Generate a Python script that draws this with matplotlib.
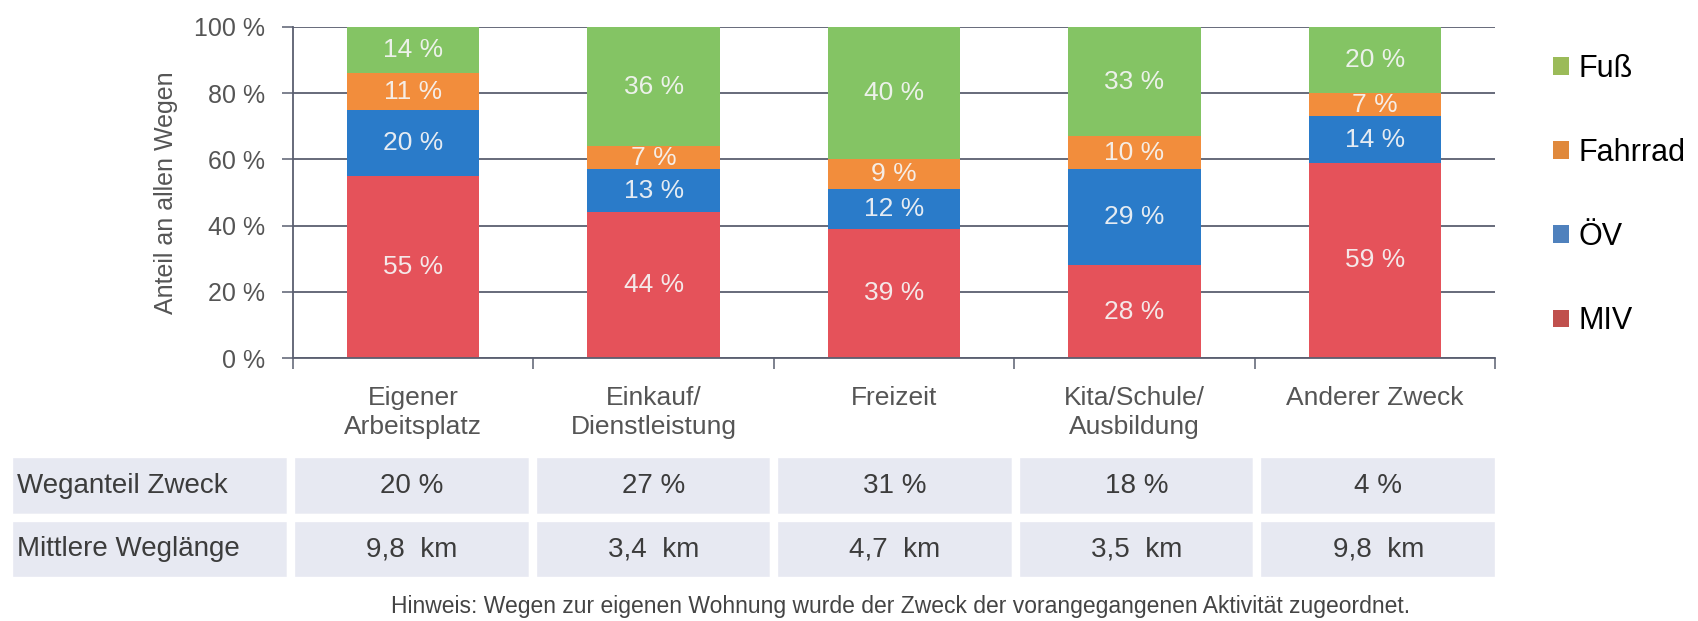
import numpy as np
import matplotlib
matplotlib.use('Agg')
import matplotlib.pyplot as plt
from matplotlib.patches import Patch

plt.rcParams['font.family'] = ['Liberation Sans', 'DejaVu Sans']

# Daten
zwecke = ['Eigener\nArbeitsplatz', 'Einkauf/\nDienstleistung', 'Freizeit',
          'Kita/Schule/\nAusbildung', 'Anderer Zweck']
modi = ['MIV', 'ÖV', 'Fahrrad', 'Fuß']
miv = [55, 44, 39, 28, 59]
oev = [20, 13, 12, 29, 14]
fahrrad = [11, 7, 9, 10, 7]
fuss = [14, 36, 40, 33, 20]
weganteil = [20, 27, 31, 18, 4]
weglaenge = [9.8, 3.4, 4.7, 3.5, 9.8]
hinweis = 'Hinweis: Wegen zur eigenen Wohnung wurde der Zweck der vorangegangenen Aktivität zugeordnet.'

farben_balken = ['#e5525a', '#2a7bc9', '#f28d3c', '#84c464']
farben_legende = ['#c0504d', '#4f81bd', '#e0893c', '#9bbb59']
gitter = '#5a5f70'

W, H = 1698, 621
fig = plt.figure(figsize=(W / 100, H / 100), dpi=100)
ax = fig.add_axes([293 / W, 1 - 358 / H, (1495 - 293) / W, (358 - 27) / H])

x = np.arange(len(zwecke))
unten = np.zeros(len(zwecke))
for werte, farbe in zip([miv, oev, fahrrad, fuss], farben_balken):
    werte = np.array(werte)
    ax.bar(x, werte, width=0.55, bottom=unten, color=farbe, zorder=2)
    for xi, b, v in zip(x, unten, werte):
        ax.text(xi, b + v / 2, f'{v} %', ha='center', va='center',
                fontsize=19, color='#f6f6f6', alpha=0.92, zorder=3)
    unten += werte

ax.set_xlim(-0.5, 4.5)
ax.set_ylim(0, 100)
ax.set_yticks(range(0, 101, 20))
ax.set_yticklabels([f'{v} %' for v in range(0, 101, 20)])
ax.yaxis.grid(True, color=gitter, linewidth=1.3)
ax.set_axisbelow(True)
ax.tick_params(axis='y', length=8, color=gitter, width=1.1, labelsize=18,
               labelcolor='#555555', pad=12)
ax.set_xticks(x)
ax.set_xticklabels(zwecke, fontsize=19, color='#555555', linespacing=1.25)
ax.tick_params(axis='x', which='major', length=0, pad=20)
ax.set_xticks(np.arange(-0.5, 5, 1), minor=True)
ax.tick_params(axis='x', which='minor', length=8, color=gitter, width=1.1)
for s in ['top', 'right']:
    ax.spines[s].set_visible(False)
ax.spines['left'].set_color(gitter)
ax.spines['left'].set_linewidth(1.3)
ax.spines['bottom'].set_color(gitter)
ax.spines['bottom'].set_linewidth(1.3)
ax.set_ylabel('Anteil an allen Wegen', fontsize=18, color='#555555', labelpad=12)

# Legende
handles = [Patch(facecolor=c) for c in farben_legende[::-1]]
ax.legend(handles, modi[::-1], loc='upper left', bbox_to_anchor=(1553 / W, 1 - 54 / H),
          bbox_transform=fig.transFigure, frameon=False, fontsize=22, borderpad=0,
          borderaxespad=0, handlelength=0.52, handleheight=0.52, handletextpad=0.3,
          labelspacing=1.77)

# Tabelle
tab_ax = fig.add_axes([9 / W, 1 - 581 / H, (1499 - 9) / W, (581 - 454) / H])
tab_ax.axis('off')
zeilen = [['Weganteil Zweck'] + [f'{v} %' for v in weganteil],
          ['Mittlere Weglänge'] + [f'{v:.1f}  km'.replace('.', ',') for v in weglaenge]]
breiten = [282] + [241.6] * 5
tab = tab_ax.table(cellText=zeilen, cellLoc='center', colWidths=[b / sum(breiten) for b in breiten],
                   bbox=[0, 0, 1, 1])
tab.auto_set_font_size(False)
tab.set_fontsize(20)
for (r, c), zelle in tab.get_celld().items():
    zelle.set_facecolor('#e7e9f2')
    zelle.set_edgecolor('white')
    zelle.set_linewidth(6)
    zelle.get_text().set_color('#3c3c3c')
    if c == 0:
        zelle._loc = 'left'
        zelle.PAD = 0.028
        zelle.get_text().set_ha('left')

fig.text(901 / W, 1 - 607 / H, hinweis, ha='center', va='center', fontsize=16.5, color='#444444')

fig.savefig('out.png', dpi=100)
